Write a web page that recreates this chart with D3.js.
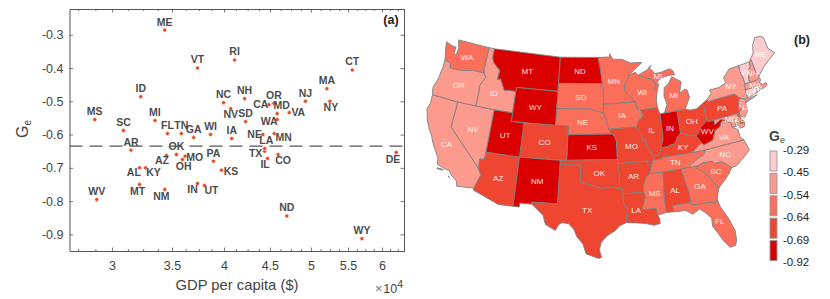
<!DOCTYPE html>
<html><head><meta charset="utf-8">
<script src="https://cdn.jsdelivr.net/npm/d3@7/dist/d3.min.js"></script>
<style>html,body{margin:0;padding:0;background:#fff}svg{display:block;font-family:"Liberation Sans",Arial,sans-serif}</style>
</head><body><svg id="c" width="830" height="299"></svg>
<script>
// ---------- scatter data ----------
const stateCodes = ["ME","VT","ID","MS","SC","MI","FL","TN","GA","WI","AR","OK","AZ","MO","OH","AL","KY","MT","NM","WV","IN","UT","PA","KS","TX","IL","CO","DE","ND","WY","RI","CT","MA","NY","NJ","NC","NH","OR","CA","NV","SD","MD","VA","WA","IA","NE","MN","LA"];
const gdpPerCapita = [34350,37370,32300,28700,30900,33500,34600,35850,37000,38640,31500,35400,34500,36200,35950,32200,32700,32200,34350,28850,37370,38040,38930,39740,44400,44730,45960,62250,47000,57000,41100,55600,52100,52500,49300,39950,42170,45460,44900,40700,42280,45850,47300,45850,40800,44200,45500,44400];
const geValues = [-0.286,-0.400,-0.486,-0.555,-0.588,-0.558,-0.597,-0.597,-0.609,-0.600,-0.647,-0.660,-0.663,-0.665,-0.675,-0.700,-0.700,-0.750,-0.765,-0.795,-0.747,-0.753,-0.680,-0.707,-0.650,-0.672,-0.660,-0.654,-0.845,-0.913,-0.376,-0.406,-0.462,-0.500,-0.500,-0.504,-0.492,-0.506,-0.510,-0.522,-0.561,-0.537,-0.534,-0.555,-0.612,-0.600,-0.597,-0.642];
const meanGe = -0.635;
const xTickValues = [30000,35000,40000,45000,50000,55000,60000];
const xTickLabels = ["3","3.5","4","4.5","5","5.5","6"];
const xMinorValues = [27500,28750,31250,32500,33750,36250,37500,38750,41250,42500,43750,46250,47500,48750,51250,52500,53750,56250,57500,58750,61250,62500];
const yTickValues = [-0.3,-0.4,-0.5,-0.6,-0.7,-0.8,-0.9];
// label offsets for the scatter, px from the point (default above)
const labelOffsets = {AZ:[-4.4,4.7],MO:[9.6,1.6],OH:[1.3,6.7],AL:[-5.7,4.7],KY:[8,4.7],MT:[-2,6.6],NM:[-3.3,7],IN:[-5,6.3],UT:[7,5],KS:[9.6,1.6],TX:[-9,2.3],IL:[-2.4,6],CO:[5,6],DE:[-3.3,7],NY:[1,6.3],CA:[-8.3,0],NV:[0,5.3],MD:[4.4,-8],VA:[9,0],WA:[-8,2],NE:[-8.3,0],LA:[1.6,-8],MN:[9.6,3.3]};
// ---------- legend / colour classes ----------
const legendLabels = ["-0.29","-0.45","-0.54","-0.64","-0.69","-0.92"];
const classThresholds = [-0.705,-0.64,-0.54,-0.45];
const classColors = ["#da0000","#ee4630","#fb6f5a","#fc9a8e","#fdcccf"];
// ---------- state outlines (lon, lat) ----------
const stateOutlines = {
WA:[[[-124.73,48.38],[-123.5,48.13],[-122.8,48.1],[-122.85,47.3],[-122.4,47.3],[-122.3,48.1],[-122.75,49],[-117.03,49],[-117.04,46.42],[-116.92,45.99],[-118.98,46],[-119.3,45.93],[-120.5,45.7],[-121.2,45.65],[-122.3,45.55],[-122.75,45.65],[-122.9,46.1],[-123.4,46.2],[-124,46.27],[-124.1,46.7],[-124.4,47.3]]],
OR:[[[-124,46.27],[-123.4,46.2],[-122.9,46.1],[-122.75,45.65],[-122.3,45.55],[-121.2,45.65],[-120.5,45.7],[-119.3,45.93],[-118.98,46],[-116.92,45.99],[-116.47,45.6],[-116.85,44.95],[-117.2,44.4],[-117.03,43.83],[-117.03,42],[-120,42],[-124.2,42],[-124.5,42.85],[-124.1,44],[-123.95,45.5]]],
ID:[[[-117.03,49],[-116.05,49],[-116.05,48],[-115.7,47.45],[-114.9,46.95],[-114.35,46.65],[-114.45,45.55],[-113.95,45.7],[-113.45,45.05],[-113,44.45],[-112.3,44.55],[-111.5,44.55],[-111.05,44.48],[-111.05,42],[-117.03,42],[-117.03,43.83],[-117.2,44.4],[-116.85,44.95],[-116.47,45.6],[-116.92,45.99],[-117.04,46.42]]],
MT:[[[-116.05,49],[-104.05,49],[-104.05,45],[-111.05,45],[-111.05,44.48],[-111.5,44.55],[-112.3,44.55],[-113,44.45],[-113.45,45.05],[-113.95,45.7],[-114.45,45.55],[-114.35,46.65],[-114.9,46.95],[-115.7,47.45],[-116.05,48]]],
WY:[[[-111.05,45],[-104.05,45],[-104.05,41],[-111.05,41]]],
ND:[[[-104.05,49],[-97.23,49],[-96.85,47.6],[-96.56,45.94],[-104.05,45.94]]],
SD:[[[-104.05,45.94],[-96.56,45.94],[-96.85,45.6],[-96.45,45.3],[-96.45,43.5],[-96.5,42.5],[-97.9,42.8],[-98.5,43],[-104.05,43]]],
NE:[[[-104.05,43],[-98.5,43],[-97.9,42.8],[-96.5,42.5],[-96.1,41.7],[-95.9,41],[-95.31,40],[-102.05,40],[-102.05,41],[-104.05,41]]],
CO:[[[-109.05,41],[-102.05,41],[-102.05,37],[-109.05,37]]],
KS:[[[-102.05,40],[-95.31,40],[-94.9,39.8],[-94.61,39.1],[-94.62,37],[-102.05,37]]],
UT:[[[-114.05,42],[-111.05,42],[-111.05,41],[-109.05,41],[-109.05,37],[-114.05,37]]],
NV:[[[-120,42],[-114.05,42],[-114.05,36.2],[-114.75,36.1],[-114.63,35],[-120,39]]],
CA:[[[-124.2,42],[-120,42],[-120,39],[-114.63,35],[-114.13,34.3],[-114.5,33.4],[-114.72,32.72],[-117.12,32.53],[-117.3,33.1],[-118.4,33.75],[-118.5,34.03],[-119.2,34.15],[-120.5,34.45],[-120.65,35.15],[-121.9,36.6],[-122.5,37.5],[-123,38],[-123.75,39],[-124.35,40.3],[-124.1,41]],[[-120.4,34.05],[-119.5,34.05],[-119.5,33.97],[-120.4,33.95]],[[-118.6,33.45],[-118.35,33.35],[-118.45,33.3]]],
AZ:[[[-114.05,37],[-109.05,37],[-109.05,31.33],[-111.07,31.33],[-114.8,32.5],[-114.72,32.72],[-114.5,33.4],[-114.13,34.3],[-114.63,35],[-114.75,36.1],[-114.05,36.2]]],
NM:[[[-109.05,37],[-103,37],[-103.05,32],[-106.62,32],[-106.53,31.78],[-108.2,31.78],[-108.2,31.33],[-109.05,31.33]]],
TX:[[[-103,36.5],[-100,36.5],[-100,34.56],[-99.2,34.3],[-98.1,34.13],[-97.2,33.8],[-96.5,33.8],[-95.5,33.9],[-94.48,33.64],[-94.04,33.55],[-94.04,33],[-94.04,31.99],[-93.55,31.2],[-93.7,30.5],[-93.85,29.7],[-94.7,29.4],[-95.3,28.9],[-96.4,28.35],[-97.2,27.6],[-97.4,26.8],[-97.15,25.96],[-97.5,25.85],[-99.1,26.4],[-99.5,27.5],[-100.3,28.3],[-100.7,29.1],[-101.4,29.77],[-102.3,29.88],[-102.7,29.7],[-103.15,28.98],[-104.5,29.6],[-104.9,30.6],[-106.53,31.78],[-106.62,32],[-103.05,32]]],
OK:[[[-103,37],[-94.62,37],[-94.43,35.4],[-94.48,33.64],[-95.5,33.9],[-96.5,33.8],[-97.2,33.8],[-98.1,34.13],[-99.2,34.3],[-100,34.56],[-100,36.5],[-103,36.5]]],
MN:[[[-97.23,49],[-95.15,49],[-95.15,49.38],[-94.6,48.72],[-93,48.6],[-91.5,48.1],[-89.5,48],[-92,46.7],[-92.3,46.1],[-92.9,45.6],[-92.75,44.75],[-91.22,43.5],[-96.45,43.5],[-96.45,45.3],[-96.85,45.6],[-96.56,45.94],[-96.85,47.6]]],
IA:[[[-96.45,43.5],[-91.22,43.5],[-91.1,42.7],[-90.15,41.8],[-91.1,41.2],[-91.4,40.4],[-91.73,40.6],[-95.77,40.58],[-95.9,41],[-96.1,41.7],[-96.5,42.5]]],
MO:[[[-95.77,40.58],[-91.73,40.6],[-91.4,40.4],[-90.7,39.9],[-90.7,39],[-90.1,38.8],[-90.2,38.4],[-89.5,37.3],[-89.15,36.95],[-89.4,36.5],[-89.7,36],[-90.37,36],[-90.15,36.5],[-94.62,36.5],[-94.62,37],[-94.61,39.1],[-94.9,39.8],[-95.31,40]]],
AR:[[[-94.62,36.5],[-90.15,36.5],[-90.37,36],[-89.7,36],[-90.1,35],[-90.6,34.7],[-91.1,33.8],[-91.17,33],[-94.04,33],[-94.04,33.55],[-94.48,33.64],[-94.43,35.4]]],
LA:[[[-94.04,33],[-91.17,33],[-91,32.4],[-91.6,31],[-89.73,31],[-89.6,30.2],[-89.4,29.8],[-89.4,29.2],[-90.2,29.1],[-91.3,29.4],[-92.3,29.55],[-93.85,29.7],[-93.7,30.5],[-93.55,31.2],[-94.04,31.99]]],
WI:[[[-92,46.7],[-90.8,46.95],[-90.4,46.55],[-89.1,46.15],[-88.1,45.9],[-87.7,45.4],[-87.6,45.1],[-88,44.55],[-87.4,45.2],[-87.05,45.25],[-87.5,44.4],[-87.8,43.5],[-87.8,42.5],[-90.65,42.5],[-91.1,42.7],[-91.22,43.5],[-92.75,44.75],[-92.9,45.6],[-92.3,46.1]]],
IL:[[[-90.65,42.5],[-87.8,42.5],[-87.53,41.72],[-87.53,39.35],[-87.6,38.7],[-88.05,37.8],[-88.45,37.1],[-89.15,36.95],[-89.5,37.3],[-90.2,38.4],[-90.1,38.8],[-90.7,39],[-90.7,39.9],[-91.4,40.4],[-91.1,41.2],[-90.15,41.8]]],
IN:[[[-87.53,41.72],[-87.2,41.75],[-86.8,41.76],[-84.8,41.76],[-84.82,39.1],[-85.4,38.7],[-85.9,38],[-86.5,37.95],[-87.1,37.8],[-88.05,37.8],[-87.6,38.7],[-87.53,39.35]]],
MI:[[[-86.8,41.76],[-84.8,41.76],[-83.45,41.73],[-83.1,42.2],[-82.45,43],[-82.6,43.9],[-82.95,44.05],[-83.9,43.7],[-83.3,45],[-84.75,45.78],[-85.5,45],[-86.25,44.7],[-86.5,43.7],[-86.2,42.7]],[[-90.4,46.55],[-89.1,46.15],[-88.1,45.9],[-87.7,45.4],[-87.6,45.1],[-87,45.7],[-86,45.95],[-85,46],[-84.2,45.95],[-84.4,46.5],[-85,46.75],[-86.5,46.5],[-87.5,46.5],[-88.4,47.35],[-87.9,47.47],[-88.9,47],[-89.5,46.85]]],
OH:[[[-84.8,41.76],[-83.45,41.73],[-82.7,41.5],[-81.7,41.5],[-80.52,41.98],[-80.52,40.64],[-80.65,40],[-80.87,39.7],[-81.7,39.25],[-81.95,38.9],[-82.2,38.6],[-82.6,38.42],[-83.1,38.6],[-83.7,38.65],[-84.25,38.9],[-84.82,39.1]]],
KY:[[[-89.4,36.5],[-88.07,36.5],[-88.07,36.68],[-83.68,36.6],[-83.1,36.9],[-82,37.5],[-82.6,38.42],[-83.1,38.6],[-83.7,38.65],[-84.25,38.9],[-84.82,39.1],[-85.4,38.7],[-85.9,38],[-86.5,37.95],[-87.1,37.8],[-88.05,37.8],[-88.45,37.1],[-89.15,36.95]]],
TN:[[[-89.4,36.5],[-88.07,36.5],[-88.07,36.68],[-83.68,36.6],[-81.68,36.59],[-82,36.1],[-83.1,35.75],[-84.3,35.2],[-84.32,35],[-85.6,34.98],[-88.2,35],[-90.1,35],[-89.7,36]]],
MS:[[[-90.1,35],[-88.2,35],[-88.47,31.9],[-88.4,30.35],[-89.6,30.2],[-89.73,31],[-91.6,31],[-91,32.4],[-91.17,33],[-91.1,33.8],[-90.6,34.7]]],
AL:[[[-88.2,35],[-85.6,34.98],[-85.18,32.87],[-85,32.3],[-85,31],[-87.6,31],[-87.4,30.65],[-87.5,30.3],[-88.4,30.35],[-88.47,31.9]]],
GA:[[[-85.6,34.98],[-83.1,35],[-83.35,34.7],[-82.75,34.3],[-81.9,33.5],[-81.1,32.1],[-80.85,32.03],[-81.3,31.2],[-81.45,30.7],[-82.05,30.36],[-82.2,30.57],[-84.86,30.7],[-85,31],[-85,32.3],[-85.18,32.87]]],
FL:[[[-87.6,31],[-85,31],[-84.86,30.7],[-82.2,30.57],[-82.05,30.36],[-81.45,30.7],[-81.25,29.8],[-80.55,28.4],[-80.05,26.8],[-80.15,25.75],[-80.4,25.2],[-81.1,25.15],[-81.75,26],[-82.2,26.9],[-82.75,27.9],[-82.65,28.8],[-83.4,29.6],[-84,30.1],[-85,29.65],[-85.8,30.2],[-87.5,30.3],[-87.4,30.65]]],
SC:[[[-83.35,34.7],[-83.1,35],[-82.4,35.2],[-81.05,35.15],[-80.8,34.82],[-79.67,34.8],[-78.55,33.86],[-79.2,33.2],[-80,32.6],[-80.85,32.03],[-81.1,32.1],[-81.9,33.5],[-82.75,34.3]]],
NC:[[[-84.32,35],[-84.3,35.2],[-83.1,35.75],[-82,36.1],[-81.68,36.59],[-75.87,36.55],[-75.5,35.25],[-76.5,34.65],[-77.9,33.9],[-78.55,33.86],[-79.67,34.8],[-80.8,34.82],[-81.05,35.15],[-82.4,35.2],[-83.1,35]]],
VA:[[[-83.68,36.6],[-81.68,36.59],[-75.87,36.55],[-76.3,37],[-76.3,37.9],[-77,38.3],[-77.05,38.85],[-77.72,39.32],[-78.35,39.4],[-78.87,38.77],[-79.65,38.55],[-80.3,37.5],[-81.7,37.2],[-82,37.5],[-83.1,36.9]]],
WV:[[[-82.6,38.42],[-82,37.5],[-81.7,37.2],[-80.3,37.5],[-79.65,38.55],[-78.87,38.77],[-78.35,39.4],[-77.72,39.32],[-78.45,39.6],[-79.48,39.2],[-79.48,39.72],[-80.52,39.72],[-80.52,40.64],[-80.65,40],[-80.87,39.7],[-81.7,39.25],[-81.95,38.9],[-82.2,38.6]]],
PA:[[[-80.52,41.98],[-79.76,42.27],[-79.76,42],[-75.35,42],[-74.7,41.35],[-75.1,40.95],[-75.2,40.65],[-74.72,40.15],[-75.42,39.8],[-75.79,39.72],[-80.52,39.72]]],
NY:[[[-79.76,42.27],[-78.9,42.85],[-79.05,43.27],[-77.5,43.25],[-76.2,43.55],[-76.3,44.2],[-75,45],[-73.35,45],[-73.4,44],[-73.25,43.6],[-73.27,42.75],[-73.5,42.05],[-73.5,41.3],[-73.65,41],[-73.9,41],[-74.7,41.35],[-75.35,42],[-79.76,42]],[[-74,40.6],[-72,41.05],[-73.7,40.9]]],
NJ:[[[-74.7,41.35],[-73.9,41],[-74.1,40.5],[-74,40.2],[-74.2,39.6],[-74.9,38.95],[-75.5,39.5],[-75.42,39.8],[-74.72,40.15],[-75.2,40.65],[-75.1,40.95]]],
DE:[[[-75.79,39.72],[-75.42,39.8],[-75.55,39.45],[-75.05,38.45],[-75.7,38.45]]],
MD:[[[-79.48,39.72],[-75.79,39.72],[-75.7,38.45],[-75.05,38.45],[-75.25,38.03],[-75.9,37.95],[-76.2,38.6],[-76.1,39.3],[-76.5,39],[-76.4,38.3],[-77,38.3],[-77.05,38.85],[-77.72,39.32],[-78.45,39.6],[-79.48,39.2]]],
CT:[[[-73.5,42.05],[-71.8,42.02],[-71.85,41.32],[-73.65,41],[-73.5,41.3]]],
RI:[[[-71.8,42.02],[-71.38,42.02],[-71.15,41.5],[-71.85,41.32]]],
MA:[[[-73.5,42.05],[-73.27,42.75],[-71.3,42.7],[-70.85,42.88],[-70.65,42.6],[-71,42.3],[-70.6,41.95],[-70.05,42.05],[-70,41.7],[-70.65,41.55],[-71.15,41.5],[-71.38,42.02],[-71.8,42.02]]],
VT:[[[-73.35,45],[-71.5,45.01],[-71.55,44.5],[-72.05,44.1],[-72.45,43.1],[-72.46,42.73],[-73.27,42.75],[-73.25,43.6],[-73.4,44]]],
NH:[[[-71.5,45.01],[-71.08,45.3],[-70.98,43.4],[-70.7,43.07],[-70.85,42.88],[-71.3,42.7],[-72.46,42.73],[-72.45,43.1],[-72.05,44.1],[-71.55,44.5]]],
ME:[[[-71.08,45.3],[-70.4,45.8],[-70,46.7],[-69.2,47.45],[-68.3,47.35],[-67.8,47.07],[-67.8,45.7],[-67,44.9],[-68.5,44.3],[-69.5,43.85],[-70.7,43.07],[-70.98,43.4]]]
};
// extra map label places (lon, lat) where the centre of area is not used
const mapLabelPlaces = {MI:[[-84.9,43.6],[-87.0,46.2]],LA:[-92.4,31.0],FL:[-81.7,28.3],MD:[-76.9,39.3],NJ:[-74.6,40.2],DE:[-75.5,39],WV:[-80.8,38.7],CA:[-120,37],ID:[-114.6,43.9],VA:[-78.6,37.5],NC:[-79,35.6],TX:[-99,31.3],OK:[-97.3,35.5],KY:[-84.8,37.5],MS:[-89.7,32.7],MN:[-94.6,46.2]};

// ---------- drawing ----------
const svg = d3.select("#c");
const box = {l:69.5,r:404,t:9,b:251};
const x = d3.scaleLog().domain([26900,63500]).range([box.l,box.r]);
const y = d3.scaleLinear().domain([-0.95,-0.2225]).range([box.b,box.t]);
const axisCol = "#555";

function styleAxis(g, hide){
  g.selectAll("path").attr("stroke",axisCol).attr("stroke-width",1);
  g.selectAll("line").attr("stroke",axisCol).attr("stroke-width",0.8);
  g.selectAll("text").attr("fill","#444").style("font-size","12.5px").style("font-family",'"Liberation Sans",Arial,sans-serif');
  if(hide) g.selectAll("text").remove();
}
const bottom = d3.axisBottom(x).tickValues(xTickValues).tickFormat((d,i)=>xTickLabels[i]).tickSizeInner(-3.5).tickSizeOuter(0).tickPadding(10);
const top_ = d3.axisTop(x).tickValues(xTickValues).tickSizeInner(-3.5).tickSizeOuter(0);
const left = d3.axisLeft(y).tickValues(yTickValues).tickFormat(d=>d.toFixed(1)).tickSizeInner(-3.5).tickSizeOuter(0).tickPadding(6);
const right = d3.axisRight(y).tickValues(yTickValues).tickSizeInner(-3.5).tickSizeOuter(0);
styleAxis(svg.append("g").attr("transform",`translate(0,${box.b})`).call(bottom));
styleAxis(svg.append("g").attr("transform",`translate(0,${box.t})`).call(top_),true);
styleAxis(svg.append("g").attr("transform",`translate(${box.l},0)`).call(left));
styleAxis(svg.append("g").attr("transform",`translate(${box.r},0)`).call(right),true);
const minorB = d3.axisBottom(x).tickValues(xMinorValues).tickFormat("").tickSizeInner(-2).tickSizeOuter(0);
const minorT = d3.axisTop(x).tickValues(xMinorValues).tickFormat("").tickSizeInner(-2).tickSizeOuter(0);
styleAxis(svg.append("g").attr("transform",`translate(0,${box.b})`).call(minorB));
styleAxis(svg.append("g").attr("transform",`translate(0,${box.t})`).call(minorT));

svg.append("line").attr("x1",box.l).attr("x2",box.r).attr("y1",y(meanGe)).attr("y2",y(meanGe))
  .attr("stroke","#555").attr("stroke-width",1.3).attr("stroke-dasharray","13,7");

const pts = stateCodes.map((s,i)=>({s,gdp:gdpPerCapita[i],ge:geValues[i]}));
svg.append("g").selectAll("circle").data(pts).join("circle")
  .attr("cx",d=>x(d.gdp)).attr("cy",d=>y(d.ge)).attr("r",2)
  .attr("fill","#e8471d").attr("stroke","#f3e3df").attr("stroke-width",0.8);
svg.append("g").selectAll("text").data(pts).join("text")
  .attr("x",d=>x(d.gdp)+(labelOffsets[d.s]||[0,-8.3])[0])
  .attr("y",d=>y(d.ge)+(labelOffsets[d.s]||[0,-8.3])[1]+3.7)
  .attr("text-anchor","middle").attr("font-size","10.5px").attr("font-weight","bold").attr("fill","#4d4d4d")
  .text(d=>d.s);

svg.append("text").attr("x",391).attr("y",24).attr("text-anchor","middle").attr("font-weight","bold").attr("font-size","12.5px").attr("fill","#222").text("(a)");
svg.append("text").attr("x",237).attr("y",290).attr("text-anchor","middle").attr("font-size","14.8px").attr("fill","#444").text("GDP per capita ($)");
const mult = svg.append("text").attr("x",375).attr("y",293).attr("font-size","12.5px").attr("fill","#444");
mult.append("tspan").attr("fill","#777").text("\u00d7");
mult.append("tspan").attr("dx","1").text("10");
mult.append("tspan").attr("dy","-5").attr("font-size","10.5px").text("4");
const yl = svg.append("text").attr("transform","translate(28,138) rotate(-90)").attr("font-size","16px").attr("fill","#444");
yl.append("tspan").text("G");
yl.append("tspan").attr("dy","3").attr("font-size","10px").text("e");

// map: conic projection followed by a small stretch and shear of the picture plane
const projection = d3.geoConicConformal().parallels([40,50]).rotate([100,0]).center([0,38.7]).scale(485).translate([581,147]);
const shearX = py => 0.02*(150-py);
const stretchY = py => 210+(py-210)*1.015;
const place = c => { const p = projection(c); return [p[0]+shearX(p[1]), stretchY(p[1])]; };
const planeAdjust = d3.geoTransform({point(px,py){ this.stream.point(px+shearX(py), stretchY(py)); }});
const path = d3.geoPath({stream: s => projection.stream(planeAdjust.stream(s))});
const color = d3.scaleThreshold().domain(classThresholds).range(classColors);
const geByState = new Map(pts.map(d=>[d.s,d.ge]));
const features = Object.keys(stateOutlines).map(k=>{
  const f = {type:"Feature",id:k,geometry:{type:"MultiPolygon",coordinates:stateOutlines[k].map(r=>{
    const ring=[...r,r[0]];
    return [d3.geoArea({type:"Polygon",coordinates:[ring]})>6 ? ring.reverse() : ring];
  })}};
  return f;
});
svg.append("g").selectAll("path").data(features).join("path")
  .attr("d",path).attr("fill",d=>color(geByState.get(d.id)))
  .attr("stroke","#808080").attr("stroke-width",0.9).attr("stroke-linejoin","round");
const mapLabels = [];
features.forEach(f=>{
  const p = mapLabelPlaces[f.id];
  if(p && Array.isArray(p[0])) p.forEach(q=>mapLabels.push({s:f.id,c:q}));
  else mapLabels.push({s:f.id,c:p||d3.geoCentroid(f)});
});
svg.append("g").selectAll("text").data(mapLabels).join("text")
  .attr("x",d=>place(d.c)[0]).attr("y",d=>place(d.c)[1]+3)
  .attr("text-anchor","middle").attr("font-size","8px").attr("fill","#fff").attr("fill-opacity",0.92).text(d=>d.s);

svg.append("text").attr("x",802).attr("y",44).attr("text-anchor","middle").attr("font-weight","bold").attr("font-size","12.5px").attr("fill","#222").text("(b)");
const lt = svg.append("text").attr("x",769).attr("y",141).attr("font-weight","bold").attr("font-size","14px").attr("fill","#444");
lt.append("tspan").text("G");
lt.append("tspan").attr("dy","2").attr("font-size","9px").attr("font-weight","normal").text("e");
const legY = d3.scalePoint().domain(legendLabels).range([150,262]);
const swatchColors = classColors.slice().reverse();
svg.append("g").selectAll("rect").data(swatchColors).join("rect")
  .attr("x",770).attr("width",7).attr("y",(d,i)=>legY(legendLabels[i])+1).attr("height",20)
  .attr("fill",d=>d).attr("stroke","#999").attr("stroke-width",0.9);
svg.append("g").selectAll("text").data(legendLabels).join("text")
  .attr("x",783).attr("y",d=>legY(d)+4).attr("font-size","11.5px").attr("fill","#222").text(d=>d);
</script></body></html>
